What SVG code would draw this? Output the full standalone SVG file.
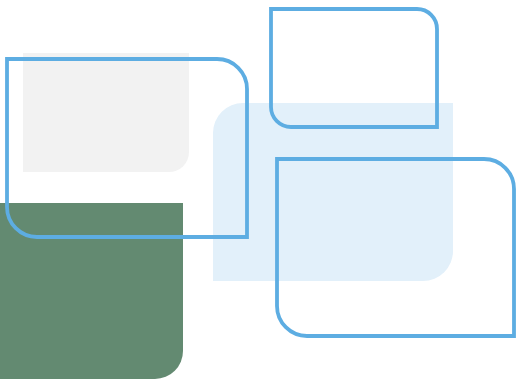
<svg xmlns="http://www.w3.org/2000/svg" width="520" height="379" viewBox="0 0 520 379">
<style>
.outline{fill:none;stroke:#5dade2;stroke-width:3.8;stroke-linejoin:miter}
</style>
<rect width="520" height="379" fill="#ffffff"/>
<g id="bg-gray"><path d="M23,53 H189 V152 A20,20 0 0 1 169,172 H23 Z" fill="#f2f2f2"/></g>
<g id="bg-lightblue"><path d="M243,103 H453 V251 A30,30 0 0 1 423,281 H213 V133 A30,30 0 0 1 243,103 Z" fill="#e2f0fa"/></g>
<g id="bg-green"><path d="M0,203 H183 V351 A28,28 0 0 1 155,379 H0 Z" fill="#638a71"/></g>
<g id="box1"><path class="outline" d="M7,59 H217 A30,30 0 0 1 247,89 V237 H37 A30,30 0 0 1 7,207 Z"/></g>
<g id="box2"><path class="outline" d="M271,9 H417 A20,20 0 0 1 437,29 V127 H291 A20,20 0 0 1 271,107 Z"/></g>
<g id="box3"><path class="outline" d="M277,159 H484 A30,30 0 0 1 514,189 V336 H307 A30,30 0 0 1 277,306 Z"/></g>
<g id="connectors"></g>
</svg>
